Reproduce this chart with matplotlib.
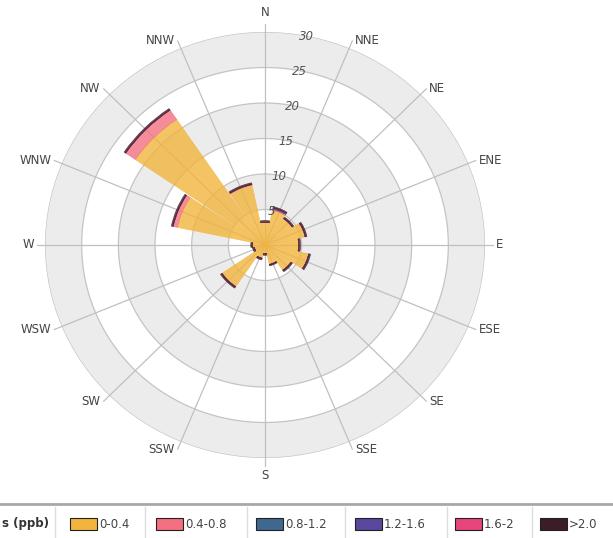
import numpy as np
import matplotlib
matplotlib.use("Agg")
import matplotlib.pyplot as plt
from matplotlib.patches import Rectangle
from matplotlib.lines import Line2D

# Directions (compass, clockwise from N)
dirs = ['N', 'NNE', 'NE', 'ENE', 'E', 'ESE', 'SE', 'SSE',
        'S', 'SSW', 'SW', 'WSW', 'W', 'WNW', 'NW', 'NNW']

# Frequency (%) per concentration class, stacked
c_0_04 = [3.2, 5.0, 4.5, 5.6, 4.6, 6.1, 4.3, 2.8, 1.2, 1.9, 7.1, 1.5, 1.7, 12.2, 21.4, 8.6]
c_04_08 = [0, 0.15, 0, 0, 0, 0, 0, 0, 0, 0, 0, 0, 0, 0.6, 1.6, 0.1]
c_08_12 = [0, 0, 0, 0, 0, 0, 0, 0, 0, 0, 0, 0, 0, 0, 0, 0]
c_12_16 = [0, 0.15, 0, 0, 0, 0, 0, 0, 0, 0, 0, 0, 0, 0, 0, 0]
c_16_2 = [0, 0, 0, 0, 0, 0, 0, 0, 0, 0, 0, 0, 0, 0, 0, 0]
c_gt2 = [0.25, 0.2, 0.25, 0.25, 0.25, 0.25, 0.25, 0.2, 0.25, 0.25, 0.25, 0.25, 0.25, 0.25, 0.25, 0.25]

classes = ['0-0.4', '0.4-0.8', '0.8-1.2', '1.2-1.6', '1.6-2', '>2.0']
colors = ['#f2b43c', '#f27080', '#3e6890', '#5b479e', '#e8457c', '#3c1c26']
series = [c_0_04, c_04_08, c_08_12, c_12_16, c_16_2, c_gt2]

rings = [5, 10, 15, 20, 25, 30]

W, H = 613, 538
fig = plt.figure(figsize=(W / 100, H / 100), dpi=100)

# polar area (slightly wider than tall, as in the screenshot)
cx, cy, rx, ry = 265, 245, 220, 213
ax = fig.add_axes([(cx - rx) / W, (H - cy - ry) / H, 2 * rx / W, 2 * ry / H],
                  projection='polar')
ax.set_aspect('auto')
ax.set_theta_zero_location('N')
ax.set_theta_direction(-1)
ax.set_ylim(0, 30)
ax.set_xticks([])
ax.set_yticks([])
ax.grid(False)
ax.spines['polar'].set_visible(False)
ax.patch.set_alpha(0)

# alternating bands
for i in range(len(rings)):
    if i % 2 == 1:
        ax.bar(0, rings[i] - rings[i - 1], width=2 * np.pi, bottom=rings[i - 1],
               color='#ececec', edgecolor='none', zorder=0)

# grid circles
tt = np.linspace(0, 2 * np.pi, 400)
for r in rings:
    ax.plot(tt, [r] * len(tt), color='#c4c4c4', lw=0.9, zorder=1)

theta = np.deg2rad(np.arange(len(dirs)) * 22.5)
for t in theta:
    ax.plot([t, t], [0, 31.1], color='#c0c0c0', lw=0.9, zorder=1, clip_on=False)

# stacked bars
bottom = np.zeros(len(dirs))
width = np.deg2rad(21.5)
for vals, col in zip(series, colors):
    vals = np.array(vals, dtype=float)
    ax.bar(theta, vals, width=width, bottom=bottom, color=col, alpha=0.8,
           edgecolor=col, linewidth=0.4, zorder=2)
    bottom += vals

# direction labels
px = 0.72
for t, d in zip(theta, dirs):
    deg = np.rad2deg(t)
    if d == 'N':
        ha, va, off = 'center', 'bottom', (0, 5 * px)
    elif d == 'S':
        ha, va, off = 'center', 'top', (0, -3 * px)
    elif deg < 180:
        ha, va, off = 'left', 'center', (3 * px, 0)
    else:
        ha, va, off = 'right', 'center', (-3 * px, 0)
    ax.annotate(d, xy=(t, 31.1), xytext=off, textcoords='offset points',
                ha=ha, va=va, fontsize=8.5, color='#444444', annotation_clip=False)

# radial labels
for r in rings:
    ax.text(np.deg2rad(11), r - 0.15, str(r), ha='center', va='center',
            fontsize=8.5, style='italic', color='#555555', zorder=4)

# legend strip at the bottom
fig.add_artist(Line2D([0, 1], [(H - 504) / H] * 2, color='#a8a8a8', lw=2,
                      transform=fig.transFigure))
fig.text(2 / W, (H - 524) / H, 's (ppb)', fontsize=8.5, fontweight='bold',
         color='#333333', ha='left', va='center')
sep_x = [55, 145, 247, 345, 447, 532]
sw_x = [70, 156, 256, 355, 455, 540]
for sx in sep_x:
    fig.add_artist(Line2D([sx / W] * 2, [0, (H - 507) / H], color='#dddddd', lw=1,
                          transform=fig.transFigure))
for x0, lab, col in zip(sw_x, classes, colors):
    fig.add_artist(Rectangle((x0 / W, (H - 530) / H), 27 / W, 12 / H,
                             facecolor=col, edgecolor='#222222', lw=0.8,
                             transform=fig.transFigure))
    fig.text((x0 + 29) / W, (H - 524) / H, lab, fontsize=8.5, color='#444444',
             ha='left', va='center')

fig.savefig('out.png', dpi=100)
